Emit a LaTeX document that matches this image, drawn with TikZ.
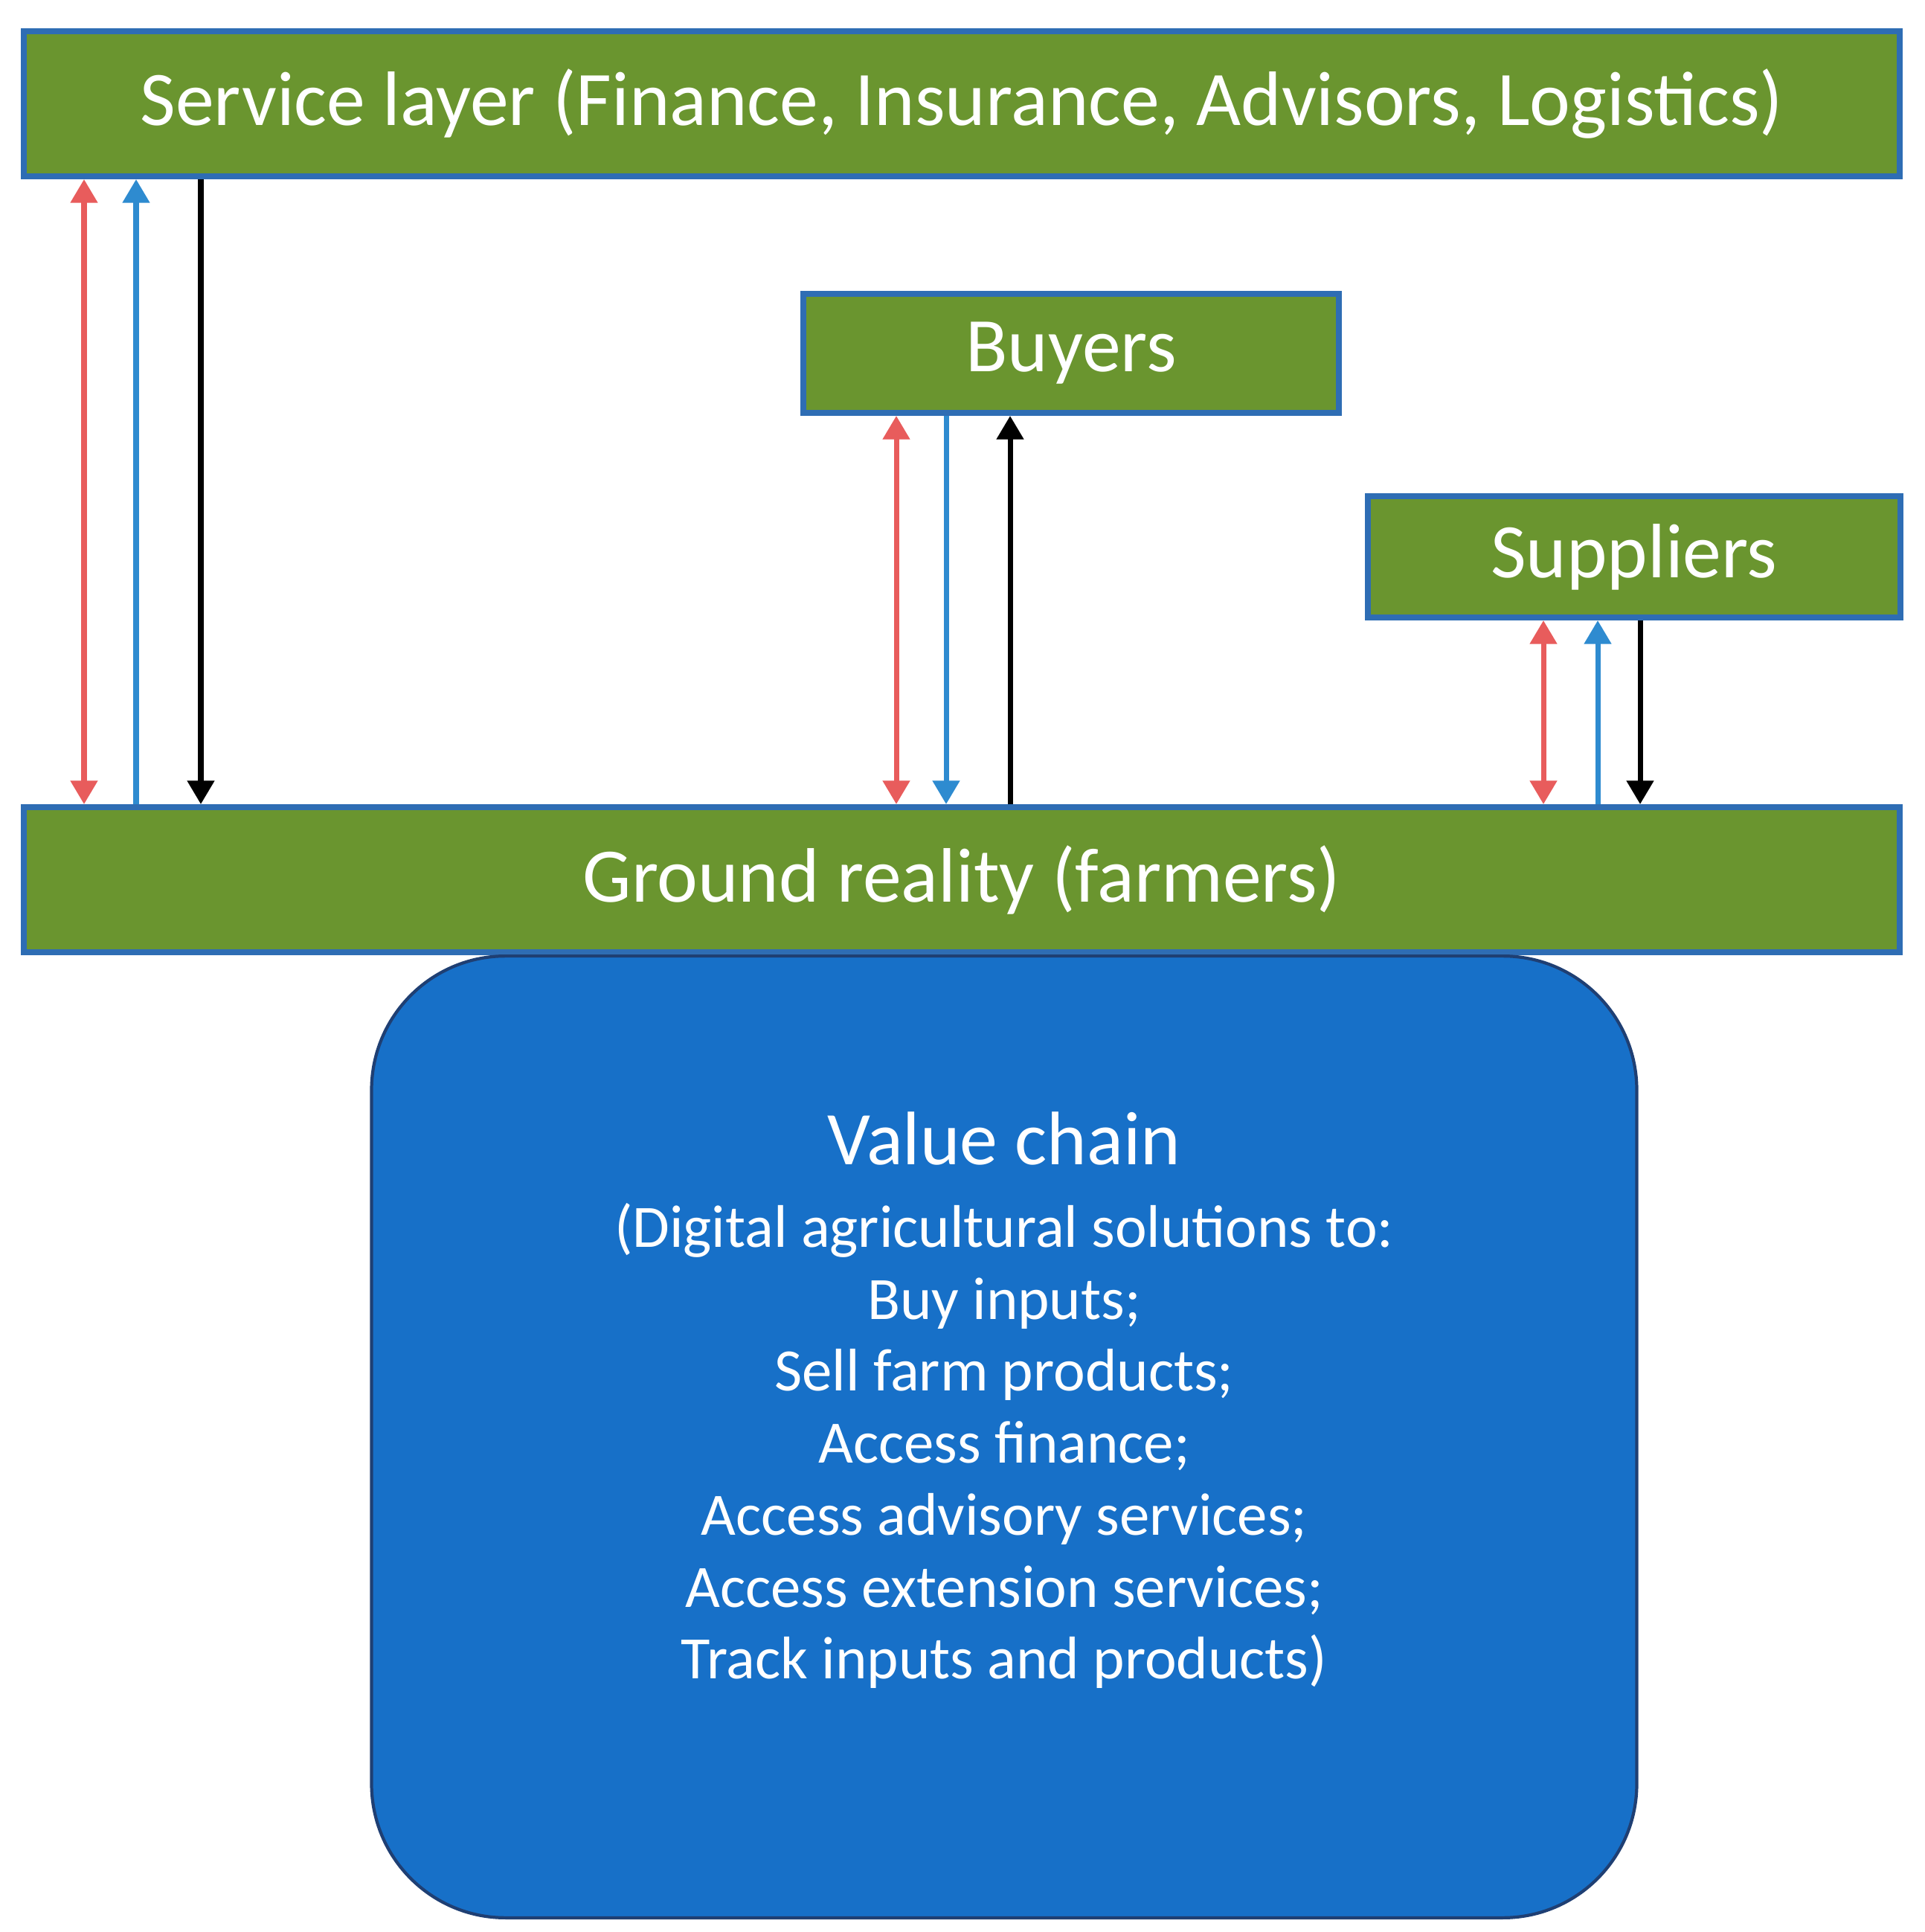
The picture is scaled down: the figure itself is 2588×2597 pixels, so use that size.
\documentclass[tikz,border=0pt]{standalone}
\usepackage{fontspec}
\setmainfont{Carlito}
\usetikzlibrary{arrows.meta}
\definecolor{grn}{HTML}{6A952F}
\definecolor{bord}{HTML}{2E6DB4}
\definecolor{vc}{HTML}{1770C8}
\definecolor{vcb}{HTML}{1F3F73}
\definecolor{ar}{HTML}{E85C5C}
\definecolor{ab}{HTML}{2E8BD0}
\begin{document}
\begin{tikzpicture}[x=0.01cm,y=-0.01cm,
  box/.style={draw=bord,line width=2.2pt,fill=grn,text=white,font=\fontsize{29.5}{34}\selectfont,inner sep=0pt},
  arr/.style={line width=2pt,-{Triangle[width=10pt,length=9pt]}},
  darr/.style={line width=2pt,{Triangle[width=10pt,length=9pt]}-{Triangle[width=10pt,length=9pt]}}]
\useasboundingbox (0,0) rectangle (2588,2597);
\node[box,minimum width=25.2cm,minimum height=1.95cm] (svc) at (1293,139.5) {Service layer (Finance, Insurance, Advisors, Logistics)};
\node[box,minimum width=7.2cm,minimum height=1.6cm] (buy) at (1440,475) {Buyers};
\node[box,minimum width=7.15cm,minimum height=1.63cm] (sup) at (2197,748.5) {Suppliers};
\node[box,minimum width=25.2cm,minimum height=1.95cm] (grd) at (1293,1182.5) {Ground reality (farmers)};
\node[draw=vcb,line width=1.2pt,fill=vc,rounded corners=1.8cm,minimum width=17.0cm,minimum height=12.92cm,anchor=north,inner sep=0pt] (val) at (1350,1283) {};
\node[text=white,font=\fontsize{29}{34}\selectfont] (vt) at (1350,1530) {Value chain};
\node[text=white,align=center,anchor=north,font=\fontsize{23}{27.5}\selectfont] (vl) at (1350,1605)
 {(Digital agricultural solutions to:\\ Buy inputs;\\ Sell farm products;\\ Access finance;\\ Access advisory services;\\ Access extension services;\\ Track inputs and products)};
% left group
\draw[darr,ar] (svc.south -| 113,0) -- (grd.north -| 113,0);
\draw[arr,ab] (grd.north -| 183,0) -- (svc.south -| 183,0);
\draw[arr,black] (svc.south -| 270,0) -- (grd.north -| 270,0);
% buyers group
\draw[darr,ar] (buy.south -| 1205,0) -- (grd.north -| 1205,0);
\draw[arr,ab] (buy.south -| 1272,0) -- (grd.north -| 1272,0);
\draw[arr,black] (grd.north -| 1358,0) -- (buy.south -| 1358,0);
% suppliers group
\draw[darr,ar] (sup.south -| 2075,0) -- (grd.north -| 2075,0);
\draw[arr,ab] (grd.north -| 2148,0) -- (sup.south -| 2148,0);
\draw[arr,black] (sup.south -| 2205,0) -- (grd.north -| 2205,0);
\end{tikzpicture}
\end{document}
